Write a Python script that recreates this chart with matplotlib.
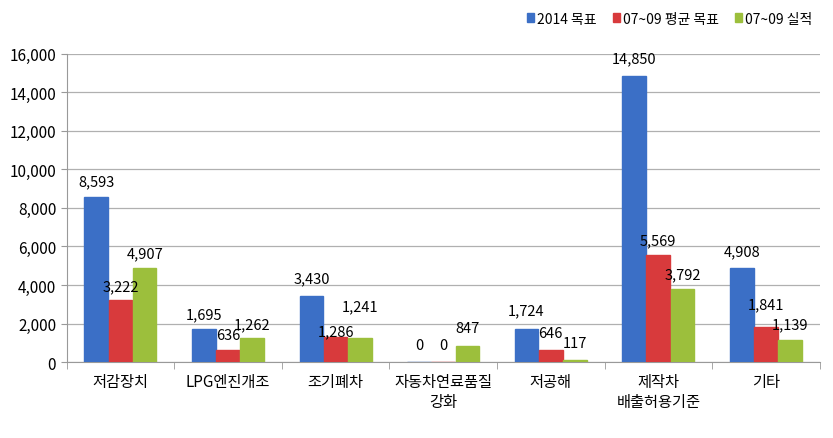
import matplotlib.pyplot as plt
import numpy as np

categories = ["저감장치", "LPG엔진개조", "조기폐차", "자동차연료품질\n강화", "저공해", "제작차\n배출허용기준", "기타"]
series_names = ["2014 목표", "07~09 평균 목표", "07~09 실적"]
target_2014 = [8593, 1695, 3430, 0, 1724, 14850, 4908]
avg_target = [3222, 636, 1286, 0, 646, 5569, 1841]
actual = [4907, 1262, 1241, 847, 117, 3792, 1139]
colors = ["#3b6fc6", "#d83a3c", "#9cbf3c"]

# gap (pixels) between bar top and its value label, as placed in the original
label_gaps = [
    [11, 11, 14, 13, 15, 14, 12],
    [10, 11, 2, 13, 13, 10, 18],
    [10, 9, 28, 14, 13, 11, 12],
]

plt.rcParams['font.family'] = ['Noto Sans CJK KR', 'DejaVu Sans']
fig = plt.figure(figsize=(8.33, 4.39), dpi=100)
ax = fig.add_axes([0.080, 0.173, 0.904, 0.702])

x = np.arange(len(categories))
w = 0.225
for i, (vals, name, c) in enumerate(zip([target_2014, avg_target, actual], series_names, colors)):
    pos = x + (i - 1) * w
    ax.bar(pos, vals, w * 0.98, color=c, edgecolor=c, label=name, zorder=3)
    for p, v, g in zip(pos, vals, label_gaps[i]):
        ax.annotate(f"{v:,}", xy=(p, v), xytext=(0, g * 0.72), textcoords="offset points",
                    ha="center", va="baseline", fontsize=10.5, zorder=4)

ax.set_xlim(-0.5, len(categories) - 0.5)
ax.set_ylim(0, 16000)
ax.set_yticks(np.arange(0, 16001, 2000))
ax.yaxis.set_major_formatter('{x:,.0f}')
ax.tick_params(axis='y', labelsize=11, length=4, color="#999999")
ax.set_xticks(x)
ax.set_xticklabels(categories, fontsize=11)
ax.set_xticks(np.arange(-0.5, len(categories)), minor=True)
ax.tick_params(axis='x', which='major', length=0, pad=8)
ax.tick_params(axis='x', which='minor', length=5, color="#999999")
ax.grid(axis='y', color="#b0b0b0", linewidth=0.9, zorder=0)
for s in ["top", "right"]:
    ax.spines[s].set_visible(False)
ax.spines["left"].set_color("#999999")
ax.spines["bottom"].set_color("#999999")

fig.legend(loc="upper right", bbox_to_anchor=(0.99, 1.0), ncol=3, frameon=False,
           fontsize=10, handlelength=0.5, handleheight=0.6, handletextpad=0.2, columnspacing=1.2)

fig.savefig("out.png", dpi=100)
